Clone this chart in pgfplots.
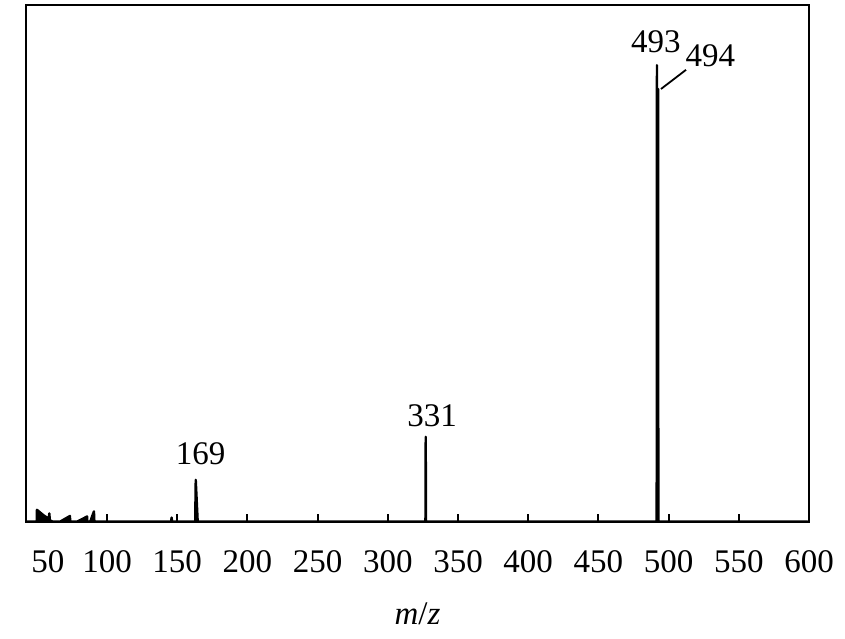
\documentclass[border=0pt]{standalone}
\usepackage{pgfplots}
\pgfplotsset{compat=1.18}
\usepackage{fontspec}
\setmainfont{Liberation Serif}
\pgfplotstableread{
mz inten
42.5 0
50.0 0
50.1 2.3
55.0 1.2
58.5 0.6
58.9 1.6
59.3 0.3
61.5 0
66.5 0
73.6 1.1
73.8 0
78.6 0
85.8 1.0
86.0 0
88.0 0
90.7 2.0
91.0 0
145.6 0
146.0 0.8
146.4 0
162.8 0
163.2 8.1
164.6 0
326.8 0
327.0 16.4
327.2 0
491.5 0
491.7 88.3
491.9 0
492.3 0
492.5 83.7
492.7 0
599 0
}\spectrum
\begin{document}
\begin{tikzpicture}
\begin{axis}[
  scale only axis, width=783pt, height=517pt,
  xmin=42.3, xmax=600, ymin=0, ymax=100,
  axis line style={line width=2.2pt},
  xtick={50,100,...,600},
  xticklabels={\hspace*{22pt}50,100,150,200,250,300,350,400,450,500,550,600},
  ytick=\empty,
  tick align=inside, xtick pos=bottom,
  major tick length=8pt,
  every tick/.style={line width=2pt, black},
  tick label style={font=\fontsize{33}{40}\selectfont},
  xticklabel style={yshift=-25pt},
  /pgf/number format/assume math mode=true,
  xlabel={\textit{m}/\textit{z}},
  xlabel style={font=\fontsize{33}{40}\selectfont, yshift=-23pt},
  clip=false,
]
\addplot[black, fill=black, line width=2.4pt, line join=round, sharp plot, mark=none] table[x=mz, y=inten] {\spectrum} \closedcycle;
\node[anchor=base, font=\fontsize{33}{40}\selectfont] at (axis cs:166.6,11.0) {169};
\node[anchor=base, font=\fontsize{33}{40}\selectfont] at (axis cs:331.5,18.4) {331};
\node[anchor=base, font=\fontsize{33}{40}\selectfont] at (axis cs:491.0,90.7) {493};
\node[anchor=base, font=\fontsize{33}{40}\selectfont] at (axis cs:529.8,88.0) {494};
\draw[line width=1.8pt] (axis cs:494.6,83.7) -- (axis cs:512.4,87.4);
\end{axis}
\path ([xshift=-26pt,yshift=-117.3pt]current axis.south west) rectangle ([xshift=36pt,yshift=4.7pt]current axis.north east);
\end{tikzpicture}
\end{document}
